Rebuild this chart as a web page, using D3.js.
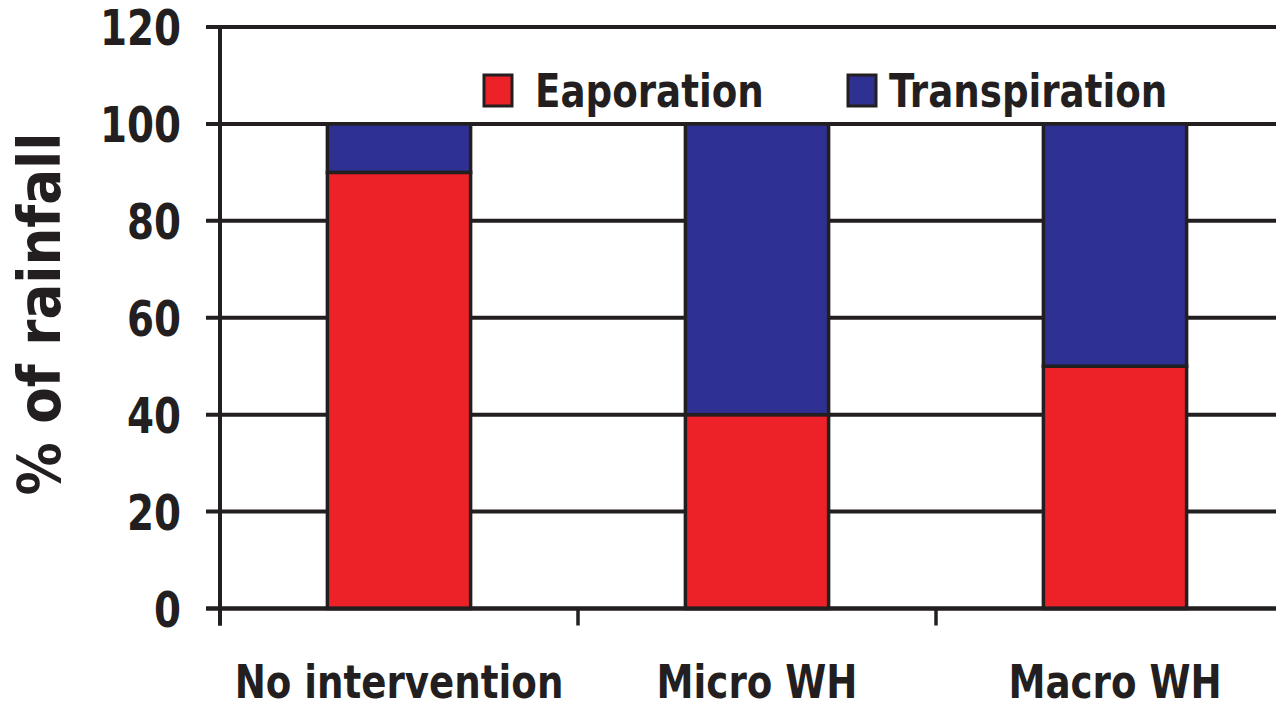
<!DOCTYPE html>
<html>
<head>
<meta charset="utf-8">
<script src="https://cdn.jsdelivr.net/npm/d3@7"></script>
<style>
  html, body { margin: 0; padding: 0; background: #fff; }
  svg { display: block; }
  text { font-family: "DejaVu Sans Condensed", "DejaVu Sans", sans-serif; font-weight: bold; fill: #231f20; }
</style>
</head>
<body>
<svg id="chart" width="1276" height="708"></svg>
<script>
// Water partitioning under each intervention (% of rainfall)
const categories = ["No intervention", "Micro WH", "Macro WH"];
const evaporation = [90, 40, 50];
const transpiration = [10, 60, 50];
const seriesNames = ["Eaporation", "Transpiration"];
const yTicks = [0, 20, 40, 60, 80, 100, 120];

const ink = "#231f20";
const colors = ["#ed2228", "#2e3192"];

const svg = d3.select("#chart");
const plotLeft = 220, plotRight = 1294, plotTop = 27, plotBottom = 608.5;

// narrow the heavy sans glyphs horizontally
const squeeze = 0.88;
const place = (px, py) => `translate(${px},${py}) scale(${squeeze},1)`;

const x = d3.scaleBand().domain(categories).range([plotLeft, plotRight]).padding(0);
const y = d3.scaleLinear().domain([0, 120]).range([plotBottom, plotTop]);

// Horizontal gridlines with their left tick stubs
svg.append("g").selectAll("line").data(yTicks).join("line")
  .attr("x1", plotLeft - 14).attr("x2", plotRight)
  .attr("y1", d => y(d)).attr("y2", d => y(d))
  .attr("stroke", ink).attr("stroke-width", 4);

// Y tick labels, baseline set half a cap height below each gridline
svg.append("g").selectAll("text").data(yTicks).join("text")
  .attr("transform", d => place(181, y(d) + 18))
  .attr("text-anchor", "end")
  .style("font-size", "49px")
  .text(d => d);

// Stacked bars
const rows = categories.map((c, i) => ({ cat: c, Eaporation: evaporation[i], Transpiration: transpiration[i] }));
const stacked = d3.stack().keys(seriesNames)(rows);
const barW = x.bandwidth() * 0.4;

svg.append("g").selectAll("g").data(stacked).join("g")
  .attr("fill", (d, i) => colors[i])
  .selectAll("rect").data(d => d).join("rect")
  .attr("x", d => x(d.data.cat) + (x.bandwidth() - barW) / 2)
  .attr("width", barW)
  .attr("y", d => y(d[1]))
  .attr("height", d => y(d[0]) - y(d[1]))
  .attr("stroke", ink).attr("stroke-width", 3.5);

// Redraw the gridline at 0 over the bar bases
svg.append("line")
  .attr("x1", plotLeft - 14).attr("x2", plotRight)
  .attr("y1", y(0)).attr("y2", y(0))
  .attr("stroke", ink).attr("stroke-width", 4);

// Y axis line
svg.append("line")
  .attr("x1", plotLeft).attr("x2", plotLeft)
  .attr("y1", y(120) + 2).attr("y2", plotBottom + 17)
  .attr("stroke", ink).attr("stroke-width", 4);

// Category boundary ticks
const bounds = categories.map(c => x(c)).concat([plotRight]);
svg.append("g").selectAll("line").data(bounds).join("line")
  .attr("x1", d => d).attr("x2", d => d)
  .attr("y1", plotBottom).attr("y2", plotBottom + 17)
  .attr("stroke", ink).attr("stroke-width", 3.5);

// Category labels
svg.append("g").selectAll("text").data(categories).join("text")
  .attr("transform", d => place(x(d) + x.bandwidth() / 2, 698))
  .attr("text-anchor", "middle")
  .style("font-size", "47px")
  .text(d => d);

// Y axis title
svg.append("text")
  .attr("transform", "translate(60,314) rotate(-90)")
  .attr("text-anchor", "middle")
  .style("font-size", "59px")
  .text("% of rainfall");

// Legend
const legendItems = [
  { name: seriesNames[0], color: colors[0], sx: 484, tx: 535 },
  { name: seriesNames[1], color: colors[1], sx: 848, tx: 889 }
];
const lg = svg.append("g");
legendItems.forEach(it => {
  lg.append("rect")
    .attr("x", it.sx).attr("y", 75).attr("width", 28).attr("height", 31)
    .attr("fill", it.color).attr("stroke", ink).attr("stroke-width", 3);
  lg.append("text")
    .attr("transform", place(it.tx, 107))
    .style("font-size", "47px")
    .text(it.name);
});
</script>
</body>
</html>
